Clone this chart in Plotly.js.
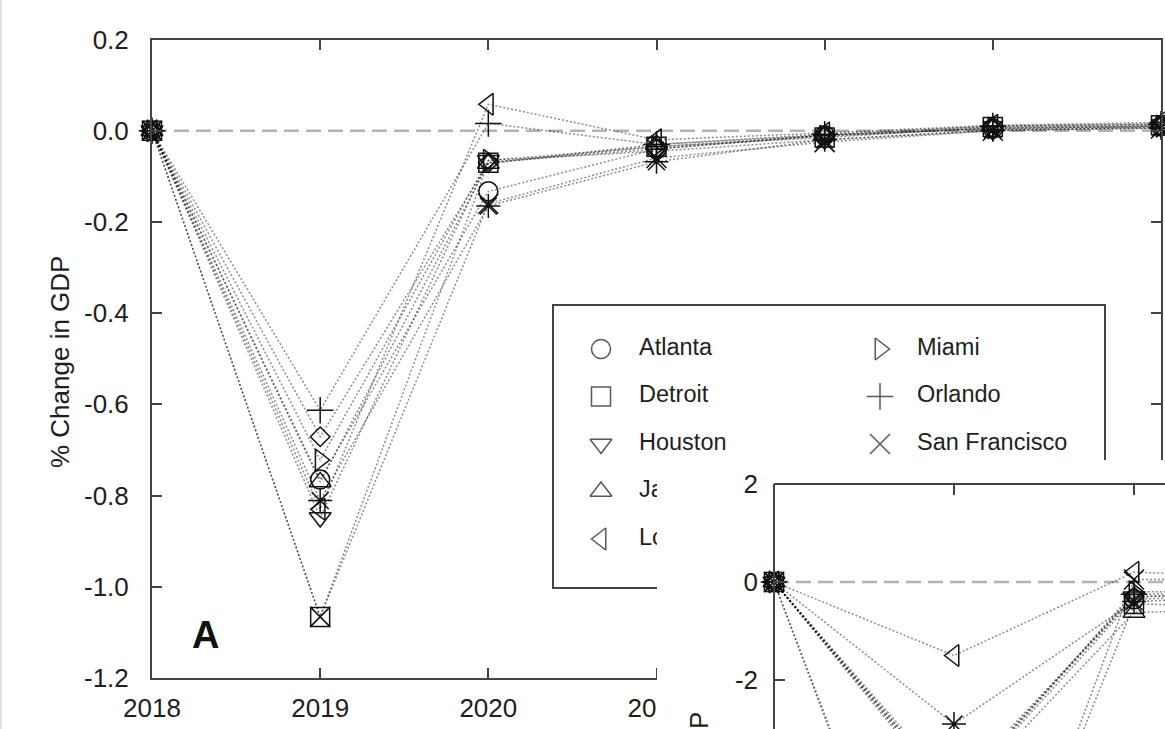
<!DOCTYPE html>
<html>
<head>
<meta charset="utf-8">
<script src="https://cdn.plot.ly/plotly-3.0.1.min.js"></script>
<style>html,body{margin:0;padding:0;background:#fff;}#chart{width:1165px;height:729px;}</style>
</head>
<body>
<div id="chart"></div>
<script>
// ---------------- DATA ----------------
const years = [2018, 2019, 2020, 2021, 2022, 2023, 2024];
const xTickLabels = ["2018", "2019", "2020", "2021", "2022", "2023", "2024"];
const yTickVals = [-1.2, -1.0, -0.8, -0.6, -0.4, -0.2, 0.0, 0.2];
const yTickLabels = ["-1.2", "-1.0", "-0.8", "-0.6", "-0.4", "-0.2", "0.0", "0.2"];

const cities = ["Atlanta", "Detroit", "Houston", "Jacksonville", "Los Angeles",
                "Miami", "Orlando", "San Francisco", "Tampa", "Washington"];
const symbols = ["circle-open", "square-open", "triangle-down-open", "triangle-up-open",
                 "triangle-left-open", "triangle-right-open", "cross-thin-open",
                 "x-thin-open", "diamond-open", "asterisk-open"];

// Panel A: % change in GDP
const atlanta      = [0, -0.765, -0.133, -0.040, -0.010, 0.005, 0.010];
const detroit      = [0, -1.066, -0.070, -0.035, -0.015, 0.008, 0.012];
const houston      = [0, -0.848, -0.065, -0.045, -0.020, 0.000, 0.008];
const jacksonville = [0, -0.770, -0.072, -0.030, -0.010, 0.010, 0.015];
const losAngeles   = [0, -0.830,  0.058, -0.020, -0.005, 0.012, 0.018];
const miami        = [0, -0.722, -0.065, -0.035, -0.012, 0.006, 0.010];
const orlando      = [0, -0.613,  0.016, -0.030, -0.008, 0.010, 0.014];
const sanFrancisco = [0, -1.066, -0.160, -0.060, -0.025, 0.000, 0.005];
const tampa        = [0, -0.671, -0.070, -0.040, -0.010, 0.004, 0.009];
const washington   = [0, -0.811, -0.165, -0.068, -0.020, 0.002, 0.006];
const seriesA = [atlanta, detroit, houston, jacksonville, losAngeles,
                 miami, orlando, sanFrancisco, tampa, washington];

// Panel B (inset, partly visible)
const yearsB = [2018, 2019, 2020, 2021];
const yTickValsB = [-2, 0, 2];
const yTickLabelsB = ["-2", "0", "2"];
const atlantaB      = [0, -4.4, -0.35, -0.25];
const detroitB      = [0, -9.6, -0.45, -0.50];
const houstonB      = [0, -4.3, -0.30, -0.22];
const jacksonvilleB = [0, -4.5, -0.62, -0.55];
const losAngelesB   = [0, -1.5,  0.20,  0.08];
const miamiB        = [0, -4.4, -0.20, -0.20];
const orlandoB      = [0, -4.3, -0.25, -0.22];
const sanFranciscoB = [0, -9.8,  0.05,  0.05];
const tampaB        = [0, -4.2, -0.30, -0.22];
const washingtonB   = [0, -2.9, -0.40, -0.25];
const seriesB = [atlantaB, detroitB, houstonB, jacksonvilleB, losAngelesB,
                 miamiB, orlandoB, sanFranciscoB, tampaB, washingtonB];

// legend entries that are visible (rest hidden behind inset)
const legendLeft = ["Atlanta", "Detroit", "Houston", "Jacksonville", "Los Angeles"];
const legendRight = ["Miami", "Orlando", "San Francisco"];

// ---------------- LAYOUT GEOMETRY (pixels) ----------------
const W = 1165, H = 729;
const mainL = 152, mainR = 1161, mainT = 39.5, mainB = 678;
const xMin = 2018, xMax = 2024, yMin = -1.2, yMax = 0.2;
const coverL = 657, coverT = 460;
const insetAxisX = 774, insetTop = 484, insetZeroY = 582;
const insetPxPerYear = 180, insetPxPerUnit = 49;

const fx = px => px / W;
const fy = py => 1 - py / H;
const dataX = px => xMin + (px - mainL) * (xMax - xMin) / (mainR - mainL);
const dataY = py => yMax - (py - mainT) * (yMax - yMin) / (mainB - mainT);

const x2Range = [2018 - (insetAxisX - coverL) / insetPxPerYear, 2018 + (W - insetAxisX) / insetPxPerYear];
const y2Range = [(insetZeroY - H) / insetPxPerUnit, (insetZeroY - coverT) / insetPxPerUnit];

const sizes = [19, 19, 19, 19, 19, 19, 19, 20, 15, 20];
const FONT = "Liberation Sans, Arial, Helvetica, sans-serif";
const AXC = "#444";
const TXT = "#1e1e1e";
const lineStyle = {color: "rgba(0,0,0,0.45)", width: 1.5, dash: "2px,2px"};

const traces = [];
seriesA.forEach((vals, i) => {
  traces.push({
    type: "scatter", mode: "lines+markers", x: years, y: vals, name: cities[i],
    xaxis: "x", yaxis: "y", showlegend: false, cliponaxis: false,
    line: lineStyle,
    marker: {symbol: symbols[i], size: sizes[i], color: "#111", line: {color: "#111", width: 1.5}}
  });
});

// hand-drawn legend (inside panel A, covered partly by inset)
const legY0 = 349, legStep = 47.5;
const leftSymX = 601, leftTextX = 639, rightSymX = 880, rightTextX = 917;
const legSymX = [], legSymY = [], legSym = [], legSize = [], legTxtX = [], legTxtY = [], legTxt = [];
legendLeft.forEach((n, i) => {
  const k = cities.indexOf(n);
  legSymX.push(dataX(leftSymX)); legSymY.push(dataY(legY0 + i * legStep));
  legSym.push(symbols[k]); legSize.push(sizes[k]);
  legTxtX.push(dataX(leftTextX)); legTxtY.push(dataY(legY0 + i * legStep)); legTxt.push(n);
});
legendRight.forEach((n, i) => {
  const k = cities.indexOf(n);
  legSymX.push(dataX(rightSymX)); legSymY.push(dataY(legY0 + i * legStep));
  legSym.push(symbols[k]); legSize.push(sizes[k]);
  legTxtX.push(dataX(rightTextX)); legTxtY.push(dataY(legY0 + i * legStep)); legTxt.push(n);
});
traces.push({
  type: "scatter", mode: "markers", x: legSymX, y: legSymY, xaxis: "x", yaxis: "y", showlegend: false,
  marker: {symbol: legSym, size: legSize, color: "#111", line: {color: "#111", width: 1.5}}
});
traces.push({
  type: "scatter", mode: "text", x: legTxtX, y: legTxtY, text: legTxt, textposition: "middle right",
  xaxis: "x", yaxis: "y", showlegend: false,
  textfont: {family: FONT, size: 23.5, color: TXT}
});

seriesB.forEach((vals, i) => {
  traces.push({
    type: "scatter", mode: "lines+markers", x: yearsB, y: vals, name: cities[i],
    xaxis: "x2", yaxis: "y2", showlegend: false,
    line: lineStyle,
    marker: {symbol: symbols[i], size: sizes[i], color: "#111", line: {color: "#111", width: 1.5}}
  });
});

const layout = {
  width: W, height: H, autosize: false,
  margin: {l: 0, r: 0, t: 0, b: 0, pad: 0},
  paper_bgcolor: "#fff", plot_bgcolor: "#fff",
  font: {family: FONT, size: 26, color: TXT},
  showlegend: false,
  xaxis: {
    domain: [fx(mainL), fx(mainR)], range: [xMin, xMax], anchor: "y",
    tickvals: years, ticktext: xTickLabels, ticks: "inside", ticklen: 10, tickwidth: 2, tickcolor: AXC,
    showline: true, linecolor: AXC, linewidth: 2, mirror: "ticks",
    showgrid: false, zeroline: false, ticklabelstandoff: 6,
    tickfont: {family: FONT, size: 26, color: TXT}
  },
  yaxis: {
    domain: [fy(mainB), fy(mainT)], range: [yMin, yMax], anchor: "x",
    tickvals: yTickVals, ticktext: yTickLabels, ticks: "inside", ticklen: 10, tickwidth: 2, tickcolor: AXC,
    showline: true, linecolor: AXC, linewidth: 2, mirror: "ticks",
    showgrid: false, zeroline: false, ticklabelstandoff: 16,
    tickfont: {family: FONT, size: 26, color: TXT}
  },
  xaxis2: {
    domain: [fx(coverL), 1], range: x2Range, anchor: "free", position: fy(insetTop), side: "top",
    tickvals: yearsB, ticks: "inside", ticklen: 10, tickwidth: 2, tickcolor: AXC,
    showticklabels: false, showline: false, showgrid: false, zeroline: false
  },
  yaxis2: {
    domain: [0, fy(coverT)], range: y2Range, anchor: "free", position: fx(insetAxisX), side: "left",
    tickvals: yTickValsB, ticktext: yTickLabelsB, ticks: "inside", ticklen: 10, tickwidth: 2, tickcolor: AXC,
    showline: false, showgrid: false, zeroline: false, ticklabelstandoff: 16,
    tickfont: {family: FONT, size: 26, color: TXT}
  },
  shapes: [
    {type: "line", xref: "paper", yref: "paper", x0: fx(1), x1: fx(1), y0: 0, y1: 1, layer: "below",
     line: {color: "#dde3e3", width: 2}},
    {type: "line", xref: "x", yref: "y", x0: xMin, x1: xMax, y0: 0, y1: 0, layer: "below",
     line: {color: "#b3b3b3", width: 2.5, dash: "15px,7px"}},
    {type: "rect", xref: "paper", yref: "paper", x0: fx(553), x1: fx(1105), y0: fy(588), y1: fy(305),
     layer: "below", line: {color: AXC, width: 2}, fillcolor: "rgba(0,0,0,0)"},
    {type: "line", xref: "x2", yref: "y2", x0: 2018, x1: x2Range[1], y0: 0, y1: 0, layer: "below",
     line: {color: "#b3b3b3", width: 2.5, dash: "15px,7px"}},
    {type: "line", xref: "x2", yref: "y2", x0: 2018, x1: 2018, y0: y2Range[0], y1: 2, layer: "above",
     line: {color: AXC, width: 2}},
    {type: "line", xref: "x2", yref: "y2", x0: 2018, x1: x2Range[1], y0: 2, y1: 2, layer: "above",
     line: {color: AXC, width: 2}}
  ],
  annotations: [
    {text: "% Change in GDP", xref: "paper", yref: "paper", x: fx(60), y: fy(362), textangle: -90,
     showarrow: false, xanchor: "center", yanchor: "middle", font: {family: FONT, size: 26, color: TXT}},
    {text: "<b>A</b>", xref: "paper", yref: "paper", x: fx(205), y: fy(635), showarrow: false,
     xanchor: "center", yanchor: "middle", font: {family: FONT, size: 38, color: "#111"}},
    {text: "% Change in GDP", xref: "paper", yref: "paper", x: fx(699), y: fy(818), textangle: -90,
     showarrow: false, xanchor: "center", yanchor: "middle", font: {family: FONT, size: 26, color: TXT}}
  ]
};

Plotly.newPlot("chart", traces, layout, {displayModeBar: false, staticPlot: true});
</script>
</body>
</html>
